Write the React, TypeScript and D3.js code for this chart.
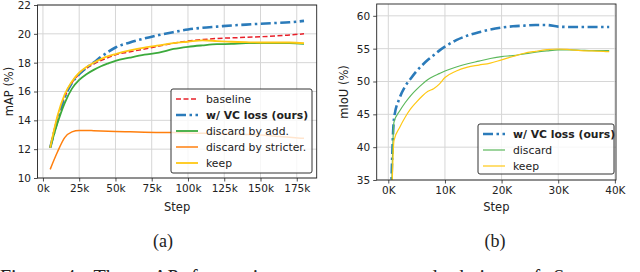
import React, { useEffect, useRef } from 'react';
import * as d3 from 'd3';

// (a) mAP vs step
const stepsA = [5000, 10000, 15000, 20000, 25000, 30000, 35000, 40000, 45000, 50000, 60000, 70000, 80000, 90000, 100000, 110000, 120000, 130000, 140000, 150000, 160000, 170000, 180000];
const baseline = [12.1, 14.2, 15.6, 16.6, 17.2, 17.6, 17.9, 18.15, 18.35, 18.55, 18.75, 18.95, 19.15, 19.35, 19.5, 19.6, 19.68, 19.72, 19.76, 19.8, 19.85, 19.92, 20.0];
const vcLossA = [12.1, 14.0, 15.6, 16.6, 17.2, 17.65, 18.0, 18.4, 18.75, 19.05, 19.4, 19.68, 19.92, 20.12, 20.3, 20.42, 20.5, 20.58, 20.64, 20.7, 20.75, 20.8, 20.9];
const discardAdd = [12.1, 13.8, 15.2, 16.2, 16.8, 17.2, 17.5, 17.75, 17.95, 18.13, 18.35, 18.55, 18.7, 18.95, 19.1, 19.2, 19.28, 19.3, 19.35, 19.35, 19.35, 19.35, 19.3];
const discardStricter = [10.6, 11.8, 12.8, 13.2, 13.3, 13.3, 13.28, 13.26, 13.24, 13.22, 13.2, 13.18, 13.16, 13.15, 13.12, 13.1, 13.08, 13.05, 13.02, 12.98, 12.9, 12.82, 12.75];
const keepA = [12.1, 14.3, 15.8, 16.7, 17.3, 17.7, 18.0, 18.25, 18.45, 18.6, 18.85, 19.05, 19.2, 19.35, 19.45, 19.55, 19.5, 19.45, 19.42, 19.4, 19.4, 19.4, 19.35];
const xTicksA = [0, 25000, 50000, 75000, 100000, 125000, 150000, 175000];
const yTicksA = [10, 12, 14, 16, 18, 20, 22];

// (b) mIoU vs step
const stepsB = [500, 1000, 2000, 3000, 4000, 5000, 6000, 7000, 8000, 9000, 10000, 12000, 14000, 16000, 18000, 20000, 22000, 24000, 26000, 28000, 30000, 32000, 34000, 36000, 38000, 39000];
const vcLossB = [33, 44.3, 47.5, 49.3, 50.5, 51.6, 52.5, 53.3, 54.0, 54.7, 55.3, 56.3, 57.0, 57.5, 57.9, 58.2, 58.4, 58.5, 58.6, 58.6, 58.35, 58.3, 58.3, 58.3, 58.3, 58.3];
const discardB = [30, 43.8, 45.5, 46.8, 47.9, 48.8, 49.6, 50.3, 50.8, 51.2, 51.6, 52.2, 52.7, 53.1, 53.5, 53.8, 53.95, 54.2, 54.45, 54.65, 54.8, 54.8, 54.75, 54.7, 54.7, 54.7];
const keepB = [28, 41.0, 43.0, 44.6, 45.9, 46.9, 47.8, 48.5, 48.9, 49.6, 50.6, 51.6, 52.2, 52.5, 52.8, 53.3, 53.8, 54.3, 54.6, 54.85, 54.95, 54.85, 54.7, 54.65, 54.6, 54.55];
const xTicksB = [0, 10000, 20000, 30000, 40000];
const yTicksB = [35, 40, 45, 50, 55, 60];

const FONT = 'DejaVu Sans';

const App = () => {
  const svgRef = useRef<SVGSVGElement>(null);

  useEffect(() => {
    const svg = d3.select(svgRef.current);
    svg.selectAll('*').remove();

    const drawPanel = (opts: any) => {
      const { x, y, xTicks, yTicks, fmt, ylabel, series, legend, id } = opts;
      const [x0, x1] = x.range();
      const [y1, y0] = y.range();
      const g = svg.append('g');

      g.append('clipPath').attr('id', id)
        .append('rect').attr('x', x0).attr('y', y0).attr('width', x1 - x0).attr('height', y1 - y0);

      // grid
      g.selectAll('.gx').data(xTicks).enter().append('line')
        .attr('x1', (d: number) => x(d)).attr('x2', (d: number) => x(d))
        .attr('y1', y0).attr('y2', y1)
        .attr('stroke', '#d6d6d6').attr('stroke-width', 1);
      g.selectAll('.gy').data(yTicks).enter().append('line')
        .attr('y1', (d: number) => y(d)).attr('y2', (d: number) => y(d))
        .attr('x1', x0).attr('x2', x1)
        .attr('stroke', '#d6d6d6').attr('stroke-width', 1);

      // lines
      const plot = g.append('g').attr('clip-path', `url(#${id})`);
      series.forEach((s: any) => {
        const line = d3.line<number>()
          .x((_, i) => x(s.steps[i]))
          .y(d => y(d))
          .curve(d3.curveMonotoneX);
        plot.append('path')
          .attr('d', line(s.values))
          .attr('fill', 'none')
          .attr('stroke', s.color)
          .attr('stroke-width', s.width)
          .attr('stroke-dasharray', s.dash || null);
      });

      // axes
      const xAxis = g.append('g').attr('transform', `translate(0,${y1})`)
        .call(d3.axisBottom(x).tickValues(xTicks).tickFormat(fmt).tickSize(3.5).tickPadding(3));
      const yAxis = g.append('g').attr('transform', `translate(${x0},0)`)
        .call(d3.axisLeft(y).tickValues(yTicks).tickFormat(d3.format('d')).tickSize(3.5).tickPadding(3));
      [xAxis, yAxis].forEach(a => {
        a.select('.domain').remove();
        a.selectAll('line').attr('stroke', '#222').attr('stroke-width', 0.8);
        a.selectAll('text').attr('font-family', FONT).attr('font-size', 10.5).attr('fill', '#222');
      });

      g.append('rect').attr('x', x0).attr('y', y0).attr('width', x1 - x0).attr('height', y1 - y0)
        .attr('fill', 'none').attr('stroke', '#222').attr('stroke-width', 0.9);

      g.append('text').attr('x', (x0 + x1) / 2).attr('y', 211)
        .attr('text-anchor', 'middle').attr('font-family', FONT).attr('font-size', 11.5).attr('fill', '#222')
        .text('Step');
      g.append('text')
        .attr('transform', `translate(${ylabel.x},${(y0 + y1) / 2}) rotate(-90)`)
        .attr('text-anchor', 'middle').attr('font-family', FONT).attr('font-size', 11.5).attr('fill', '#222')
        .text(ylabel.text);

      // legend
      const lg = g.append('g');
      lg.append('rect').attr('x', legend.x).attr('y', legend.y).attr('width', legend.w).attr('height', legend.h)
        .attr('rx', 2).attr('fill', 'white').attr('fill-opacity', 0.8)
        .attr('stroke', '#333').attr('stroke-width', 1);
      series.forEach((s: any, i: number) => {
        const ly = legend.y + 10 + i * 16;
        lg.append('line').attr('x1', legend.x + 5).attr('x2', legend.x + 27)
          .attr('y1', ly).attr('y2', ly)
          .attr('stroke', s.color).attr('stroke-width', s.width)
          .attr('stroke-dasharray', s.dash || null);
        lg.append('text').attr('x', legend.x + 35).attr('y', ly + 4)
          .attr('font-family', FONT).attr('font-size', 10.8).attr('fill', '#222')
          .attr('font-weight', s.bold ? 'bold' : 'normal')
          .text(s.label);
      });
    };

    drawPanel({
      id: 'clipA',
      x: d3.scaleLinear().domain([-3750, 188750]).range([37.5, 316.7]),
      y: d3.scaleLinear().domain([10, 22]).range([178, 5]),
      xTicks: xTicksA,
      yTicks: yTicksA,
      fmt: (d: number) => `${d / 1000}k`,
      ylabel: { x: 13, text: 'mAP (%)' },
      legend: { x: 171, y: 89, w: 141, h: 84 },
      series: [
        { label: 'baseline', steps: stepsA, values: baseline, color: '#e8202a', width: 1.5, dash: '5,2.5' },
        { label: 'w/ VC loss (ours)', steps: stepsA, values: vcLossA, color: '#2b7bba', width: 2.6, dash: '10,3.5,2.5,3.5', bold: true },
        { label: 'discard by add.', steps: stepsA, values: discardAdd, color: '#3caa3c', width: 1.8 },
        { label: 'discard by stricter.', steps: stepsA, values: discardStricter, color: '#ff7f0e', width: 1.5 },
        { label: 'keep', steps: stepsA, values: keepA, color: '#ffc814', width: 1.8 },
      ],
    });

    drawPanel({
      id: 'clipB',
      x: d3.scaleLinear().domain([-2050, 40200]).range([376.7, 616]),
      y: d3.scaleLinear().domain([35, 61.8]).range([180, 4]),
      xTicks: xTicksB,
      yTicks: yTicksB,
      fmt: (d: number) => `${d / 1000}K`,
      ylabel: { x: 348, text: 'mIoU (%)' },
      legend: { x: 478, y: 124, w: 136, h: 50 },
      series: [
        { label: 'w/ VC loss (ours)', steps: stepsB, values: vcLossB, color: '#2b7bba', width: 2.6, dash: '10,3.5,2.5,3.5', bold: true },
        { label: 'discard', steps: stepsB, values: discardB, color: '#5cb85c', width: 1.2 },
        { label: 'keep', steps: stepsB, values: keepB, color: '#ffc814', width: 1.2 },
      ],
    });

    // captions
    const serif = 'Liberation Serif';
    svg.append('text').attr('x', 163).attr('y', 247).attr('text-anchor', 'middle')
      .attr('font-family', serif).attr('font-size', 18).attr('fill', '#222').text('(a)');
    svg.append('text').attr('x', 495).attr('y', 247).attr('text-anchor', 'middle')
      .attr('font-family', serif).attr('font-size', 18).attr('fill', '#222').text('(b)');
    // caption line below, cut by the bottom edge as in the reference
    svg.append('text').attr('x', 0).attr('y', 284)
      .attr('font-family', serif).attr('font-size', 20).attr('fill', '#222').attr('word-spacing', 8)
      .text('Figure 4: The mAP for various components and choices of S');
  }, []);

  return (
    <svg ref={svgRef} width={640} height={272}
      style={{ position: 'absolute', left: 0, top: 0, background: 'white' }} />
  );
};

export default App;
